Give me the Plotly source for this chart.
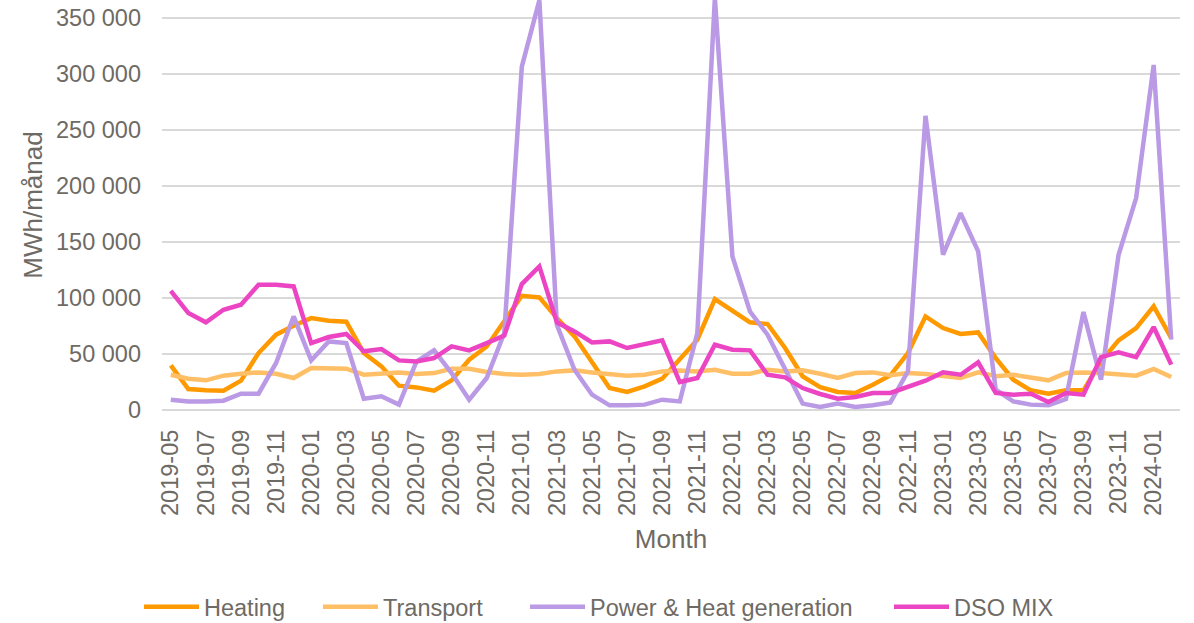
import plotly.graph_objects as go

months = [
    "2019-05", "2019-06", "2019-07", "2019-08", "2019-09", "2019-10", "2019-11", "2019-12",
    "2020-01", "2020-02", "2020-03", "2020-04", "2020-05", "2020-06", "2020-07", "2020-08",
    "2020-09", "2020-10", "2020-11", "2020-12", "2021-01", "2021-02", "2021-03", "2021-04",
    "2021-05", "2021-06", "2021-07", "2021-08", "2021-09", "2021-10", "2021-11", "2021-12",
    "2022-01", "2022-02", "2022-03", "2022-04", "2022-05", "2022-06", "2022-07", "2022-08",
    "2022-09", "2022-10", "2022-11", "2022-12", "2023-01", "2023-02", "2023-03", "2023-04",
    "2023-05", "2023-06", "2023-07", "2023-08", "2023-09", "2023-10", "2023-11", "2023-12",
    "2024-01", "2024-02",
]

tick_labels = months[::2]

heating = [39900, 18700, 17600, 17300, 26200, 50900, 67300, 75300, 82100, 79800, 78900, 50900,
           39000, 21700, 20200, 17300, 26500, 44900, 56800, 80000, 102000, 100600, 82100, 65800,
           43400, 19600, 16100, 21100, 28000, 44900, 62800, 99100, 89000, 78300, 76800, 55400,
           30100, 20500, 16100, 15200, 22600, 31000, 50900, 83600, 73200, 67900, 69300, 46400,
           27100, 17600, 14600, 17600, 17600, 43400, 62200, 73200, 92600, 64300]

transport = [31500, 28000, 26500, 30700, 32400, 33600, 32400, 28600, 37500, 36900, 36900, 31500,
             32100, 33600, 32100, 33000, 36900, 36900, 33900, 32100, 31500, 32100, 34500, 35400,
             33600, 32400, 30700, 31500, 34500, 35400, 34500, 36000, 32400, 32400, 36000, 34500,
             35400, 32400, 28600, 33000, 33600, 31000, 33000, 32100, 30100, 28600, 33600, 30100,
             31500, 29500, 26500, 33000, 33600, 33000, 31500, 30700, 36600, 29500]

power_heat = [9200, 7700, 7700, 8300, 14600, 14600, 42000, 83600, 44300, 61300, 59800, 10100,
              12200, 4800, 43400, 53300, 33000, 9200, 28600, 68700, 306800, 366000, 76000, 36000,
              13700, 4200, 4200, 4800, 9200, 7700, 68700, 368000, 137200, 88000, 67300, 36000,
              5700, 2700, 5700, 2700, 4200, 6800, 34500, 262800, 138700, 175900, 141700, 18200,
              7700, 4800, 4200, 9800, 87500, 27100, 138700, 189300, 308300, 62800]

dso_mix = [106500, 86600, 78300, 89600, 94000, 111900, 111900, 110400, 59800, 65200, 67900, 52400,
           54500, 44300, 43400, 46400, 56800, 53300, 59800, 66400, 112500, 128300, 78300, 70200,
           60400, 61300, 55400, 58900, 62200, 25000, 28600, 58300, 53900, 53300, 31500, 29200,
           19600, 14300, 10100, 11600, 15200, 15200, 21100, 26200, 33600, 31500, 42600, 15200,
           13700, 14600, 7100, 15200, 13700, 47300, 51500, 47300, 74100, 40500]

series = [
    ("Heating", heating, "#FF9900"),
    ("Transport", transport, "#FFBF66"),
    ("Power & Heat generation", power_heat, "#BA99E5"),
    ("DSO MIX", dso_mix, "#EC45C4"),
]

text_color = "#6E6A64"
font_family = "Liberation Sans, Arial, sans-serif"
W, H = 1194, 623

# left edge (px) of each legend entry
legend_left = [139, 318, 525, 889]
legend_ids = ["legend", "legend2", "legend3", "legend4"]

fig = go.Figure()
for (name, vals, color), lid in zip(series, legend_ids):
    fig.add_trace(go.Scatter(
        x=months, y=vals, name=name, mode="lines",
        line=dict(color=color, width=4.5), legend=lid,
    ))

legend_layouts = {}
for lid, left in zip(legend_ids, legend_left):
    legend_layouts[lid] = dict(
        orientation="h", xref="container", yref="container",
        x=left / W, xanchor="left", y=16 / H, yanchor="middle",
        font=dict(size=23.5, color=text_color),
        itemwidth=55, borderwidth=0, bgcolor="rgba(0,0,0,0)",
    )

fig.update_layout(
    width=W, height=H,
    margin=dict(l=162, r=14, t=0, b=213),
    paper_bgcolor="white", plot_bgcolor="white",
    font=dict(family=font_family, size=23.5, color=text_color),
    separators=". ",
    showlegend=True,
    xaxis=dict(
        type="category", range=[-0.5, len(months) - 0.5],
        tickmode="array", tickvals=tick_labels, ticktext=tick_labels,
        tickangle=-90, showgrid=False, showline=False, zeroline=False,
        ticks="", ticklabelstandoff=14,
        title=dict(text="Month", font=dict(size=26, color=text_color), standoff=14),
    ),
    yaxis=dict(
        range=[0, 366300], tickmode="array",
        tickvals=[0, 50000, 100000, 150000, 200000, 250000, 300000, 350000],
        tickformat=",d", showgrid=True, gridcolor="#D9D9D9", gridwidth=1.5,
        zeroline=True, zerolinecolor="#D9D9D9", zerolinewidth=1.5,
        showline=False, ticks="", ticklabelstandoff=20,
        title=dict(text="MWh/månad", font=dict(size=26, color=text_color), standoff=5),
    ),
    **legend_layouts,
)

fig.write_html("out.html", config={"displayModeBar": False},
               post_script="document.body.style.margin='0px';")
